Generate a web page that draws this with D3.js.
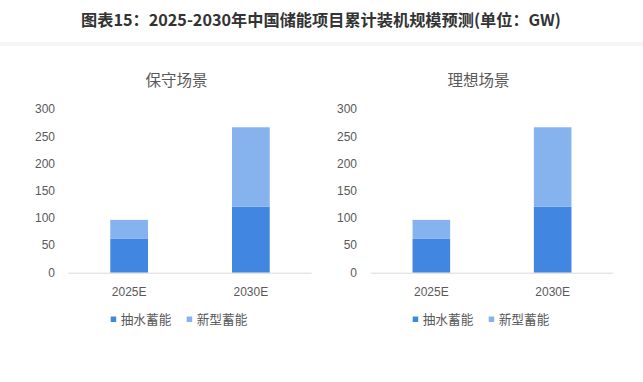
<!DOCTYPE html>
<html><head><meta charset="utf-8">
<script src="https://cdn.jsdelivr.net/npm/d3@7/dist/d3.min.js"></script>
<style>body{margin:0;background:#fff;}svg{display:block;}</style>
</head><body><svg id="c" width="643" height="382"></svg>
<script>
const title = "图表15：2025-2030年中国储能项目累计装机规模预测(单位：GW)";
const panelTitles = ["保守场景", "理想场景"];
const categories = ["2025E", "2030E"];
const seriesNames = ["抽水蓄能", "新型蓄能"];
const conservativePumped = [62, 121];
const conservativeNew = [35, 146];
const idealPumped = [62, 121];
const idealNew = [35, 146];
const yTicks = [0, 50, 100, 150, 200, 250, 300];

const colors = ["#4186e0", "#86b3ee"];
const svg = d3.select("#c");
const CJK = "'Noto Sans CJK SC','Microsoft YaHei',sans-serif";
const NUM = "'Liberation Sans',Arial,sans-serif";

svg.append("rect").attr("x",0).attr("y",42).attr("width",643).attr("height",4).attr("fill","#f5f5f5");
svg.append("text").attr("x",321).attr("y",26).attr("text-anchor","middle")
  .attr("font-family",CJK).attr("font-weight","bold").attr("font-size",16.2)
  .attr("fill","#333").text(title);

const panels = [
  {title: panelTitles[0], data: [conservativePumped, conservativeNew], x0: 68.3, x1: 311.7, labelX: 55, legendX: 110.7},
  {title: panelTitles[1], data: [idealPumped, idealNew], x0: 370.7, x1: 613.3, labelX: 357, legendX: 412.7}
];
const y = d3.scaleLinear().domain([0,300]).range([272.7,109.3]);

panels.forEach(p => {
  const g = svg.append("g");
  const x = d3.scaleBand().domain(categories).range([p.x0,p.x1]).paddingInner(0.69).paddingOuter(0.345);
  g.append("text").attr("x",(p.x0+p.x1)/2 - 13.5).attr("y",85.5).attr("text-anchor","middle")
    .attr("font-family",CJK).attr("font-size",15.5).attr("fill","#595959").text(p.title);
  yTicks.forEach(t => {
    g.append("text").attr("x",p.labelX).attr("y",y(t)+4).attr("text-anchor","end")
      .attr("font-family",NUM).attr("font-size",12).attr("fill","#595959").text(t);
  });
  const stack = d3.stack().keys([0,1]).value((d,k)=>p.data[k][d])(categories.map((c,i)=>i));
  stack.forEach((layer,k) => {
    g.selectAll(null).data(layer).enter().append("rect")
      .attr("x",(d,i)=>x(categories[i])).attr("width",x.bandwidth())
      .attr("y",d=>y(d[1])).attr("height",d=>y(d[0])-y(d[1]))
      .attr("fill",colors[k]);
  });
  g.append("line").attr("x1",p.x0).attr("x2",p.x1).attr("y1",273.2).attr("y2",273.2)
    .attr("stroke","#d9d9d9").attr("stroke-width",1);
  categories.forEach(c => {
    g.append("text").attr("x",x(c)+x.bandwidth()/2).attr("y",296).attr("text-anchor","middle")
      .attr("font-family",NUM).attr("font-size",12).attr("fill","#595959").text(c);
  });
  const offs = [0, 76];
  seriesNames.forEach((s,k) => {
    g.append("rect").attr("x",p.legendX+offs[k]).attr("y",316.5).attr("width",5.5).attr("height",5.5).attr("fill",colors[k]);
    g.append("text").attr("x",p.legendX+offs[k]+10).attr("y",323.8)
      .attr("font-family",CJK).attr("font-size",12.7).attr("fill","#595959").text(s);
  });
});
</script></body></html>
